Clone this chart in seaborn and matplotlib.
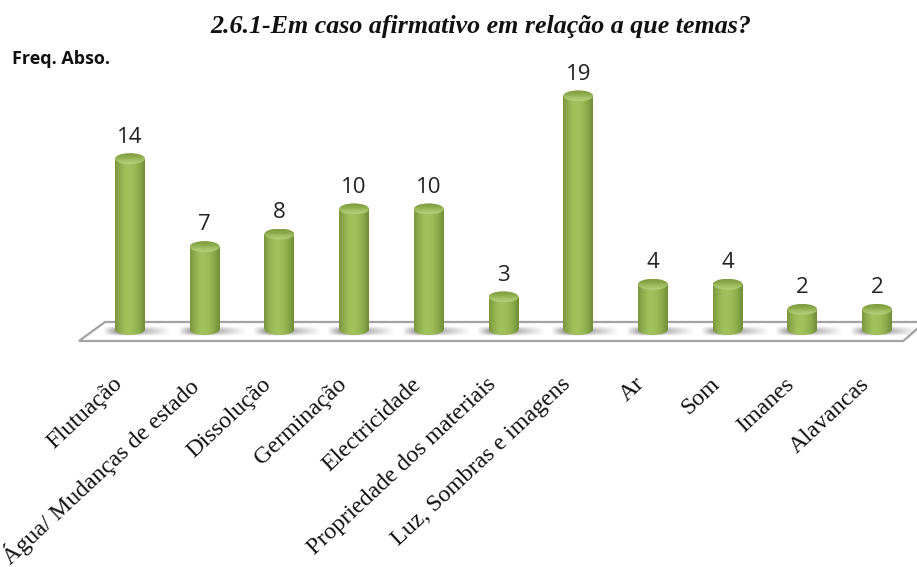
import numpy as np
import pandas as pd
import matplotlib
matplotlib.use("Agg")
import matplotlib.pyplot as plt
from matplotlib.colors import LinearSegmentedColormap
from matplotlib.patches import Ellipse, Polygon, Rectangle
from matplotlib.transforms import ScaledTranslation
import seaborn as sns

categories = ["Flutuação", "Água/ Mudanças de estado", "Dissolução", "Germinação",
              "Electricidade", "Propriedade dos materiais", "Luz, Sombras e imagens",
              "Ar", "Som", "Imanes", "Alavancas"]
values = [14, 7, 8, 10, 10, 3, 19, 4, 4, 2, 2]
title = "2.6.1-Em caso afirmativo em relação a que temas?"
ylabel = "Freq. Abso."

W, H = 917, 567
sns.set_theme(style="white")
fig = plt.figure(figsize=(W / 100, H / 100), dpi=100, facecolor="white")
ax = fig.add_axes([0, (H - 345) / H, 1, 345 / H])
ax.patch.set_alpha(0)

df = pd.DataFrame({"tema": categories, "freq": values})
sns.barplot(data=df, x="tema", y="freq", width=0.4, color="#9dbd58",
            saturation=1, ax=ax, zorder=3, edgecolor="none")

XLIM = (-130 / 74.7, (W - 130) / 74.7)
YLIM = ((334.5 - 345) / 12.56, 334.5 / 12.56)
ax.set_xlim(*XLIM)
ax.set_ylim(*YLIM)

# Platform
ax.add_patch(Polygon([(.0861, .0116), (.1145, .0667), (1.0087, .0667), (.985, .0116)],
                     closed=True, transform=ax.transAxes, facecolor="white",
                     edgecolor="#a3a3a3", lw=1.6, zorder=1, clip_on=False))

body = LinearSegmentedColormap.from_list("body", ["#7a9740", "#90ae4d", "#a0c05c", "#a1c15d",
                                                  "#9ab955", "#88a747", "#6f8d37"])
cap = LinearSegmentedColormap.from_list("cap", ["#7f9c3f", "#8ba94a", "#a3c266", "#b5d07c"])
grad_x = np.linspace(0, 1, 128).reshape(1, -1)
grad_y = np.linspace(0, 1, 64).reshape(-1, 1)
cap_h = 11 / 12.56
base = 0.4

for patch in list(ax.containers[0]):
    x0, w, top = patch.get_x(), patch.get_width(), patch.get_height()
    xc = x0 + w / 2
    patch.set_visible(False)
    # floor shadow
    ramp = np.concatenate([np.linspace(0, 1, 30), np.linspace(1, 0, 80)])
    sh = np.zeros((24, ramp.size, 4))
    sh[..., :3] = 0.33
    vert = np.sin(np.linspace(0, np.pi, 24))[:, None]
    sh[..., 3] = 0.8 * ramp[None, :] * vert
    ax.imshow(sh, extent=(x0 - 0.16, x0 + w + 0.34, base - 0.55, base + 0.2),
              aspect="auto", zorder=2, interpolation="bilinear")
    # body
    for clip in (Rectangle((x0, base), w, top - base, transform=ax.transData),
                 Ellipse((xc, base), w, cap_h, transform=ax.transData)):
        im = ax.imshow(grad_x, cmap=body, extent=(x0, x0 + w, base - cap_h, top),
                       aspect="auto", zorder=3, interpolation="bilinear")
        im.set_clip_path(clip)
    # cap
    im = ax.imshow(grad_y, cmap=cap, extent=(x0, x0 + w, top - cap_h / 2, top + cap_h / 2),
                   aspect="auto", zorder=4, interpolation="bilinear", origin="upper")
    im.set_clip_path(Ellipse((xc, top), w, cap_h, transform=ax.transData))

ax.set_xlim(*XLIM)
ax.set_ylim(*YLIM)
ax.bar_label(ax.containers[0], padding=8, fontsize=16, family="Open Sans",
             color="#222222", zorder=6)

ax.set_xlabel("")
ax.set_ylabel("")
ax.set_yticks([])
sns.despine(ax=ax, left=True, bottom=True)
ax.tick_params(axis="x", length=0, pad=20.5)
ax.set_xticks(range(len(categories)))
ax.set_xticklabels(categories, rotation=43, ha="right", va="top", rotation_mode="anchor",
                   family="Liberation Serif", fontsize=17.3, color="#111111")
shift = ScaledTranslation(-18 / 100, 0, fig.dpi_scale_trans)
for lab in ax.get_xticklabels():
    lab.set_transform(lab.get_transform() + shift)

fig.text(481 / W, 1 - 27 / H, title, ha="center", va="center", family="Liberation Serif",
         style="italic", weight="bold", fontsize=18.7, color="#111111")
fig.text(12 / W, 1 - 59 / H, ylabel, ha="left", va="center", family="Open Sans",
         weight="bold", fontsize=13, color="#111111")

fig.savefig("out.png", dpi=100)
